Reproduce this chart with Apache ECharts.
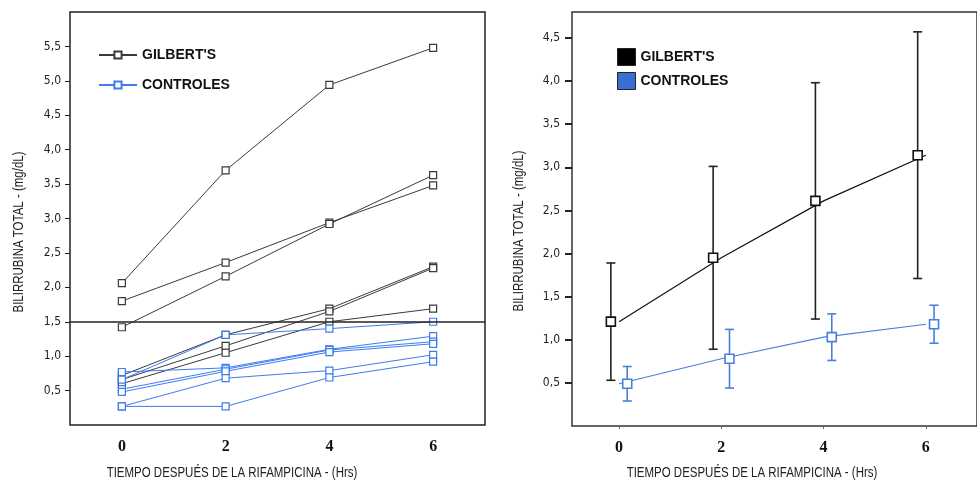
<!DOCTYPE html>
<html><head><meta charset="utf-8">
<script src="https://cdn.jsdelivr.net/npm/echarts@6/dist/echarts.min.js"></script>
<style>html,body{margin:0;padding:0;background:#fff}#c{width:977px;height:481px}</style>
</head><body><div id="c"></div>
<script>
// ---------- data ----------
const TIMES = [0, 2, 4, 6];
const X_TICKS = [0, 2, 4, 6];
const Y_TICKS_LEFT = [0.5, 1, 1.5, 2, 2.5, 3, 3.5, 4, 4.5, 5, 5.5];
const Y_TICKS_RIGHT = [0.5, 1, 1.5, 2, 2.5, 3, 3.5, 4, 4.5];
const SERIES_NAMES = ["GILBERT'S", "CONTROLES"];
const X_TITLE = 'TIEMPO DESPUÉS DE LA RIFAMPICINA - (Hrs)';
const Y_TITLE = 'BILIRRUBINA TOTAL - (mg/dL)';
const REFERENCE_LEVEL = 1.5;

// individual subjects (left panel)
const GILBERT_1 = [2.06, 3.70, 4.94, 5.48];
const GILBERT_2 = [1.80, 2.36, 2.94, 3.48];
const GILBERT_3 = [1.42, 2.16, 2.92, 3.63];
const GILBERT_4 = [0.72, 1.31, 1.69, 2.30];
const GILBERT_5 = [0.66, 1.15, 1.65, 2.28];
const GILBERT_6 = [0.60, 1.05, 1.50, 1.69];

const CONTROL_1 = [0.66, 1.31, 1.40, 1.50];
const CONTROL_2 = [0.77, 0.83, 1.10, 1.29];
const CONTROL_3 = [0.52, 0.81, 1.09, 1.21];
const CONTROL_4 = [0.48, 0.78, 1.06, 1.18];
const CONTROL_5 = [0.27, 0.68, 0.79, 1.02];
const CONTROL_6 = [0.27, 0.27, 0.69, 0.92];

// group means and error half-widths (right panel)
const GILBERT_MEAN = [1.21, 1.95, 2.61, 3.14];
const GILBERT_ERR  = [0.68, 1.06, 1.37, 1.43];
const CONTROL_MEAN = [0.49, 0.78, 1.03, 1.18];
const CONTROL_ERR  = [0.20, 0.34, 0.27, 0.22];

// ---------- styles ----------
const DODGE = 0.16;
const DARK = '#3a3a3a';
const BLUE = '#3d7bf0';
const BLUE_R = '#4a7fdc';
const LEGEND_BLUE = '#3a6fd2';
const SANS = "'Liberation Sans', Arial, sans-serif";
const COND = "'DejaVu Sans Condensed', 'Liberation Sans', sans-serif";
const SERIF = "'Liberation Serif', 'Times New Roman', serif";
const comma = v => v.toFixed(1).replace('.', ',');

const GILBERTS = [GILBERT_1, GILBERT_2, GILBERT_3, GILBERT_4, GILBERT_5, GILBERT_6];
const CONTROLS = [CONTROL_1, CONTROL_2, CONTROL_3, CONTROL_4, CONTROL_5, CONTROL_6];

function subjectSeries(arr, name, color, extra) {
  return Object.assign({
    type: 'line', name, xAxisIndex: 0, yAxisIndex: 0,
    data: TIMES.map((t, i) => [t, arr[i]]),
    symbol: 'rect', symbolSize: 7, showSymbol: true,
    lineStyle: { color, width: 1 },
    itemStyle: { color: '#fff', borderColor: color, borderWidth: 1.2 },
    silent: true, animation: false
  }, extra || {});
}

function errorSeries(name, means, errs, shift, color) {
  return {
    type: 'custom', name, xAxisIndex: 1, yAxisIndex: 1,
    data: TIMES.map((t, i) => [t + shift, means[i] - errs[i], means[i] + errs[i]]),
    encode: { x: 0, y: [1, 2] },
    renderItem: (params, api) => {
      const x = api.value(0);
      const lo = api.coord([x, api.value(1)]);
      const hi = api.coord([x, api.value(2)]);
      const cap = 4.5;
      const st = { stroke: color, lineWidth: 1.6 };
      return { type: 'group', children: [
        { type: 'line', shape: { x1: hi[0], y1: hi[1], x2: lo[0], y2: lo[1] }, style: st },
        { type: 'line', shape: { x1: hi[0] - cap, y1: hi[1], x2: hi[0] + cap, y2: hi[1] }, style: st },
        { type: 'line', shape: { x1: lo[0] - cap, y1: lo[1], x2: lo[0] + cap, y2: lo[1] }, style: st }
      ]};
    },
    silent: true, animation: false, z: 3
  };
}

const series = [];
GILBERTS.forEach((arr, k) => {
  const extra = k === 0 ? {
    markLine: {
      silent: true, symbol: 'none', label: { show: false },
      lineStyle: { color: '#222', width: 1.5, type: 'solid' },
      data: [{ yAxis: REFERENCE_LEVEL }]
    }
  } : {};
  series.push(subjectSeries(arr, SERIES_NAMES[0], DARK, extra));
});
CONTROLS.forEach(arr => series.push(subjectSeries(arr, SERIES_NAMES[1], BLUE)));

// right panel
series.push({
  type: 'line', name: SERIES_NAMES[0], xAxisIndex: 1, yAxisIndex: 1,
  data: TIMES.map((t, i) => [t, GILBERT_MEAN[i]]), symbol: 'none',
  lineStyle: { color: '#111', width: 1.2 }, silent: true, animation: false
});
series.push({
  type: 'line', name: SERIES_NAMES[1], xAxisIndex: 1, yAxisIndex: 1,
  data: TIMES.map((t, i) => [t, CONTROL_MEAN[i]]), symbol: 'none',
  lineStyle: { color: BLUE_R, width: 1.2 }, silent: true, animation: false
});
series.push(errorSeries(SERIES_NAMES[0], GILBERT_MEAN, GILBERT_ERR, -DODGE, '#222'));
series.push(errorSeries(SERIES_NAMES[1], CONTROL_MEAN, CONTROL_ERR, DODGE, BLUE_R));
series.push({
  type: 'scatter', name: SERIES_NAMES[0], xAxisIndex: 1, yAxisIndex: 1,
  data: TIMES.map((t, i) => [t - DODGE, GILBERT_MEAN[i]]),
  symbol: 'rect', symbolSize: 9,
  itemStyle: { color: '#fff', borderColor: '#111', borderWidth: 1.6, opacity: 1 },
  silent: true, animation: false, z: 5
});
series.push({
  type: 'scatter', name: SERIES_NAMES[1], xAxisIndex: 1, yAxisIndex: 1,
  data: TIMES.map((t, i) => [t + DODGE, CONTROL_MEAN[i]]),
  symbol: 'rect', symbolSize: 9,
  itemStyle: { color: '#fff', borderColor: BLUE_R, borderWidth: 1.6, opacity: 1 },
  silent: true, animation: false, z: 5
});

const xLabel = {
  customValues: X_TICKS, margin: 14,
  fontFamily: SERIF, fontWeight: 'bold', fontSize: 16, color: '#111'
};
const noLine = { show: false, onZero: false };

const option = {
  backgroundColor: '#fff',
  animation: false,
  grid: [
    { left: 70, top: 12, width: 415, height: 413, show: true, borderColor: '#222', borderWidth: 1.5, backgroundColor: 'transparent' },
    { left: 572, top: 12, width: 414.6, height: 414, show: true, borderColor: '#333', borderWidth: 1.5, backgroundColor: 'transparent' }
  ],
  xAxis: [
    { type: 'value', gridIndex: 0, min: -1, max: 7,
      axisLine: noLine, axisTick: { show: false }, splitLine: { show: false },
      axisLabel: xLabel },
    { type: 'value', gridIndex: 1, min: -0.92, max: 7,
      axisLine: noLine, splitLine: { show: false },
      axisTick: { show: true, customValues: X_TICKS, length: 3, lineStyle: { color: '#666', width: 1 } },
      axisLabel: xLabel }
  ],
  yAxis: [
    { type: 'value', gridIndex: 0, min: 0, max: 6,
      axisLine: noLine, splitLine: { show: false },
      axisTick: { show: true, customValues: Y_TICKS_LEFT, length: 5, lineStyle: { color: '#222', width: 1 } },
      axisLabel: { customValues: Y_TICKS_LEFT, formatter: comma, margin: 9, fontFamily: COND, fontSize: 12, color: '#222' } },
    { type: 'value', gridIndex: 1, min: 0, max: 4.8,
      axisLine: noLine, splitLine: { show: false },
      axisTick: { show: true, customValues: Y_TICKS_RIGHT, length: 7, lineStyle: { color: '#222', width: 2 } },
      axisLabel: { customValues: Y_TICKS_RIGHT, formatter: comma, margin: 12, fontFamily: COND, fontSize: 12, color: '#222' } }
  ],
  legend: [
    { data: SERIES_NAMES, orient: 'vertical', left: 93, top: 43,
      itemWidth: 38, itemHeight: 9, itemGap: 16, selectedMode: false,
      textStyle: { fontFamily: SANS, fontWeight: 'bold', fontSize: 14, lineHeight: 14, color: '#111' } },
    { data: [
        { name: SERIES_NAMES[0], icon: 'rect', itemStyle: { color: '#000', borderColor: '#222', borderWidth: 1 } },
        { name: SERIES_NAMES[1], icon: 'rect', itemStyle: { color: LEGEND_BLUE, borderColor: '#222', borderWidth: 1 } }
      ],
      orient: 'vertical', left: 612, top: 43,
      itemWidth: 18, itemHeight: 17, itemGap: 6, selectedMode: false,
      textStyle: { fontFamily: SANS, fontWeight: 'bold', fontSize: 14, color: '#111' } }
  ],
  graphic: [
    { type: 'text', x: 232, y: 473, scaleX: 0.82, style: { text: X_TITLE, font: '14px ' + SANS, fill: '#222', align: 'center', verticalAlign: 'middle' } },
    { type: 'text', x: 752, y: 473, scaleX: 0.82, style: { text: X_TITLE, font: '14px ' + SANS, fill: '#222', align: 'center', verticalAlign: 'middle' } },
    { type: 'text', x: 19, y: 232, rotation: Math.PI / 2, scaleX: 0.82, style: { text: Y_TITLE, font: '14px ' + SANS, fill: '#222', align: 'center', verticalAlign: 'middle' } },
    { type: 'text', x: 519, y: 231, rotation: Math.PI / 2, scaleX: 0.82, style: { text: Y_TITLE, font: '14px ' + SANS, fill: '#222', align: 'center', verticalAlign: 'middle' } }
  ],
  series
};

const chart = echarts.init(document.getElementById('c'), null, { renderer: 'canvas' });
chart.setOption(option);
</script>
</body></html>
